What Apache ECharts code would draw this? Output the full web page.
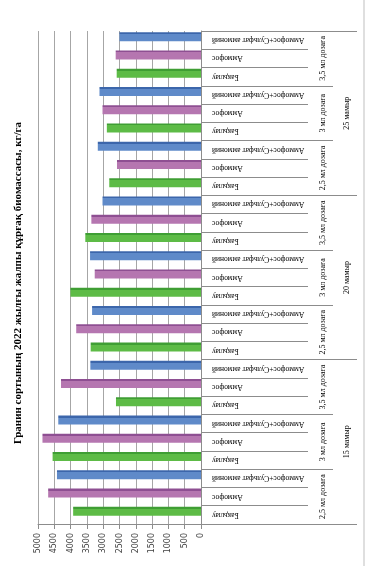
<!DOCTYPE html>
<html>
<head>
<meta charset="utf-8">
<script src="https://cdn.jsdelivr.net/npm/echarts@6/dist/echarts.min.js"></script>
<style>
    html, body { margin: 0; padding: 0; background: #fff; }
    #chart { width: 380px; height: 566px; }
</style>
</head>
<body>
<div id="chart"></div>
<script>
// Values, ordered 15 / 20 / 25 мамыр, each 2,5 / 3 / 3,5 мл
const dates = ["15 мамыр", "20 мамыр", "25 мамыр"];
const doses = ["2,5 мл дозаға", "3 мл дозаға", "3,5 мл дозаға"];
const treatments = ["Бақылау", "Аммофос", "Аммофос+Сульфат аммоний"];
const bakylau = [3922, 4552, 2608, 3384, 4005, 3549, 2814, 2888, 2586];
const ammofos = [4688, 4863, 4294, 3828, 3260, 3363, 2577, 3021, 2617];
const ammofosSulfat = [4418, 4378, 3394, 3341, 3403, 3021, 3166, 3114, 2503];
const valueTicks = [0, 500, 1000, 1500, 2000, 2500, 3000, 3500, 4000, 4500, 5000];

const colors = [
    ["#5dbb46", "#3f9e34"],
    ["#b576b0", "#8e4f92"],
    ["#5f8ac9", "#3c66ab"],
];

const inner = [];
const doseCats = [];
const barData = [];
dates.forEach((d, di) => {
    doses.forEach((s, si) => {
        const k = di * 3 + si;
        doseCats.push(s);
        [bakylau[k], ammofos[k], ammofosSulfat[k]].forEach((v, ti) => {
            inner.push(treatments[ti]);
            barData.push({
                value: v,
                itemStyle: {
                    color: new echarts.graphic.LinearGradient(0, 0, 0, 1, [
                        { offset: 0, color: colors[ti][1] },
                        { offset: 0.22, color: colors[ti][1] },
                        { offset: 0.22, color: colors[ti][0] },
                        { offset: 1, color: colors[ti][0] },
                    ]),
                },
            });
        });
    });
});

const serif = "'Liberation Serif', 'DejaVu Serif', serif";
const lineColor = "#8c8c8c";

const chart = echarts.init(document.getElementById("chart"));
chart.setOption({
    animation: false,
    backgroundColor: "#fff",
    grid: { left: 38, right: 179, top: 31, bottom: 42 },
    xAxis: {
        type: "value",
        inverse: true,
        min: 0,
        max: 5000,
        interval: 500,
        axisLine: { show: true, lineStyle: { color: lineColor } },
        axisTick: { show: true, length: 5, lineStyle: { color: lineColor } },
        axisLabel: {
            rotate: 90,
            margin: 9,
            fontSize: 8,
            color: "#404040",
            fontFamily: "'DejaVu Sans', sans-serif",
            formatter: (v) => (valueTicks.includes(v) ? String(v) : ""),
        },
        splitLine: { show: true, lineStyle: { color: "#a6a6a6" } },
    },
    yAxis: [
        {
            type: "category",
            position: "right",
            data: inner,
            axisLine: { show: true, lineStyle: { color: lineColor } },
            axisTick: { show: true, length: 107, lineStyle: { color: lineColor } },
            axisLabel: {
                interval: 0,
                rotate: 180,
                margin: 11,
                fontSize: 7.5,
                color: "#000",
                fontFamily: serif,
            },
        },
        {
            type: "category",
            position: "right",
            data: doseCats,
            axisLine: { show: false },
            axisTick: { show: true, length: 132, lineStyle: { color: lineColor } },
            axisLabel: {
                interval: 0,
                rotate: 90,
                margin: 118,
                fontSize: 8,
                color: "#000",
                fontFamily: serif,
            },
        },
        {
            type: "category",
            position: "right",
            data: dates,
            axisLine: { show: false },
            axisTick: { show: true, length: 156, lineStyle: { color: lineColor } },
            axisLabel: {
                interval: 0,
                rotate: 90,
                margin: 142,
                fontSize: 8,
                color: "#000",
                fontFamily: serif,
            },
        },
    ],
    series: [
        {
            type: "bar",
            yAxisIndex: 0,
            barWidth: 9,
            barGap: "0%",
            data: barData,
        },
        {
            type: "bar",
            yAxisIndex: 0,
            barWidth: 7,
            data: inner.map(() => "-"),
        },
    ],
    graphic: [
        {
            type: "text",
            left: 13,
            top: "middle",
            rotation: Math.PI / 2,
            style: {
                text: "Гранин сортының 2022 жылғы жалпы құрғақ биомассасы, кг/га",
                font: "bold 11px " + serif,
                fill: "#000",
            },
        },
        {
            type: "line",
            shape: { x1: 364, y1: 0, x2: 364, y2: 566 },
            style: { stroke: "#bfbfbf", lineWidth: 1 },
        },
    ],
});
</script>
</body>
</html>
